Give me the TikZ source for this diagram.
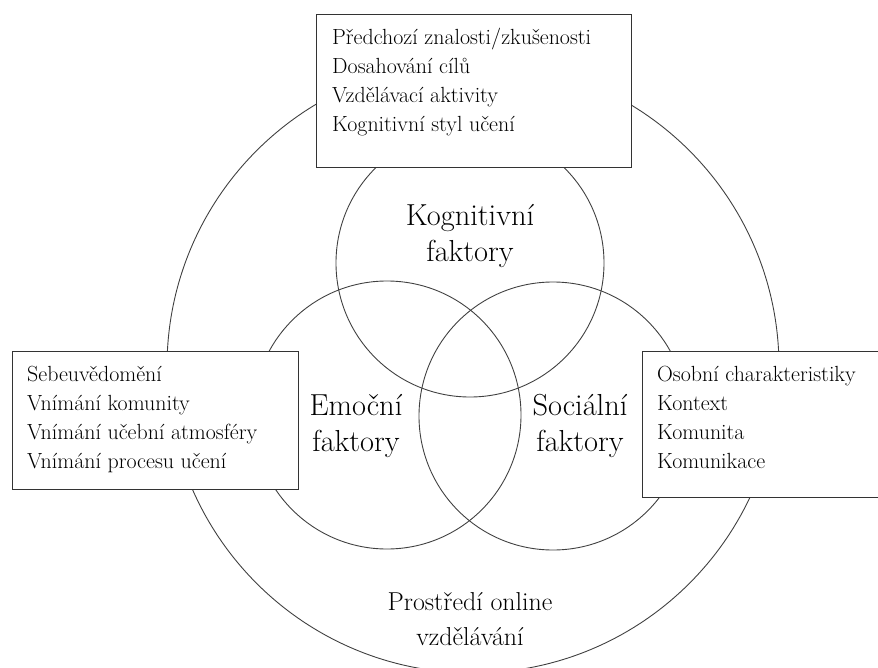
\documentclass[tikz,border=0pt]{standalone}
\usepackage{fontspec}
\usepackage{tikz}
\usetikzlibrary{positioning}

\begin{document}
\begin{tikzpicture}[
  x=1bp, y=-1bp,
  ring/.style={circle, draw=black!75, line width=0.9pt, inner sep=0pt},
  listbox/.style={
    rectangle, draw=black!80, fill=white, line width=0.9pt,
    anchor=north west, inner sep=0pt
  },
  listtext/.style={anchor=north west, align=left, inner sep=0pt,
    font=\fontsize{22}{29}\selectfont},
  factor/.style={align=center, font=\fontsize{30.5}{37}\selectfont},
  envtext/.style={align=center, font=\fontsize{26}{35}\selectfont}
]
\clip (0,0) rectangle (878,668);

%  Environment and factor circles
\node[ring, minimum size=612bp] (env) at (473,367) {};
\node[ring, minimum size=268bp] (kog) at (470,263) {};
\node[ring, minimum size=268bp] (emo) at (387,415) {};
\node[ring, minimum size=268bp] (soc) at (553,416) {};

%  Circle labels
\node[factor] (kogL) at (470,236) {Kognitivní\\faktory};
\node[factor] (emoL) at (356,426) {Emoční\\faktory};
\node[factor] (socL) at (580,426) {Sociální\\faktory};
\node[envtext] (envL) at (470,619) {Prostředí online\\vzdělávání};

%  Lists of factors
\node[listbox, minimum width=315bp, minimum height=153bp] (kbox) at (316,14) {};
\node[listtext] at ([shift={(16,14)}]kbox.north west) {%
  Předchozí znalosti/zkušenosti\\
  Dosahování cílů\\
  Vzdělávací aktivity\\
  Kognitivní styl učení};

\node[listbox, minimum width=286bp, minimum height=138bp] (ebox) at (12,351) {};
\node[listtext] at ([shift={(15,15)}]ebox.north west) {%
  Sebeuvědomění\\
  Vnímání komunity\\
  Vnímání učební atmosféry\\
  Vnímání procesu učení};

\node[listbox, minimum width=250bp, minimum height=146bp] (sbox) at (642,351) {};
\node[listtext] at ([shift={(15,15)}]sbox.north west) {%
  Osobní charakteristiky\\
  Kontext\\
  Komunita\\
  Komunikace};

\end{tikzpicture}
\end{document}
